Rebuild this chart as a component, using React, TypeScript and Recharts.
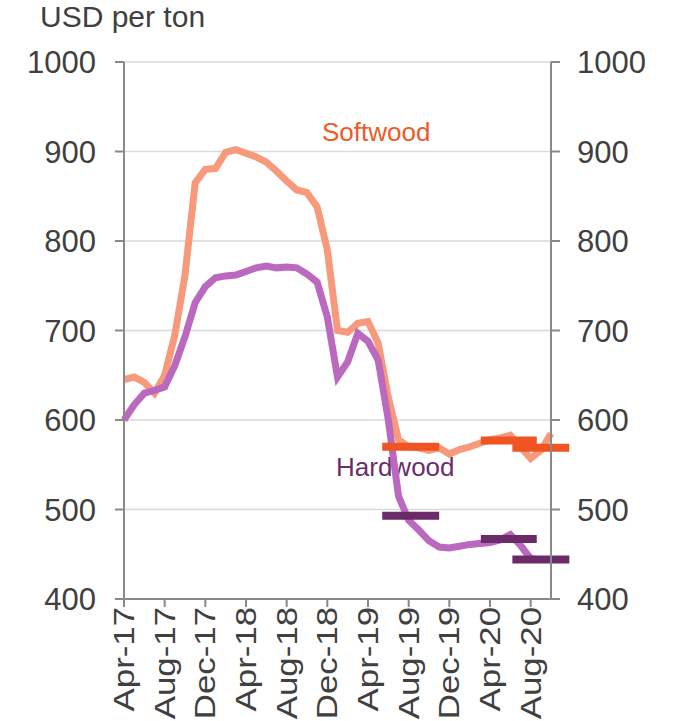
import React from "react";
import {
  ComposedChart,
  Line,
  XAxis,
  YAxis,
  CartesianGrid,
  ReferenceLine,
} from "recharts";

const months = [
  "Apr-17", "May-17", "Jun-17", "Jul-17", "Aug-17", "Sep-17", "Oct-17", "Nov-17", "Dec-17",
  "Jan-18", "Feb-18", "Mar-18", "Apr-18", "May-18", "Jun-18", "Jul-18", "Aug-18", "Sep-18",
  "Oct-18", "Nov-18", "Dec-18", "Jan-19", "Feb-19", "Mar-19", "Apr-19", "May-19", "Jun-19",
  "Jul-19", "Aug-19", "Sep-19", "Oct-19", "Nov-19", "Dec-19", "Jan-20", "Feb-20", "Mar-20",
  "Apr-20", "May-20", "Jun-20", "Jul-20", "Aug-20", "Sep-20", "Oct-20",
];

const softwood = [
  645, 648, 642, 630, 650, 695, 762, 865, 880, 881, 899, 902, 898, 894, 888, 878, 867, 857,
  854, 838, 790, 700, 698, 708, 710, 686, 625, 578, 570, 569, 566, 569, 562, 567, 570, 574,
  578, 580, 583, 570, 557, 566, 585,
];

const hardwood = [
  600, 617, 630, 633, 637, 661, 693, 731, 749, 759, 761, 762, 766, 770, 772, 770, 771, 770,
  763, 754, 715, 648, 665, 697, 688, 667, 600, 515, 488, 477, 465, 458, 457, 459, 461, 462,
  463, 466, 472, 460, 445, 444, 444,
];

// averages drawn as thick horizontal bars (start / end in month index)
const avgStart = [25.4, 35.1, 38.2];
const avgEnd = [31.0, 40.6, 43.8];
const softwoodAvg = [570, 577, 569];
const hardwoodAvg = [493, 467, 444];

const tickLabels = [
  "Apr-17", "Aug-17", "Dec-17", "Apr-18", "Aug-18", "Dec-18", "Apr-19", "Aug-19", "Dec-19",
  "Apr-20", "Aug-20",
];
const yTicks = [400, 500, 600, 700, 800, 900, 1000];

const data = months.map((m, i) => ({
  i,
  month: m,
  softwood: softwood[i],
  hardwood: hardwood[i],
}));

const font = "'Liberation Sans', Arial, sans-serif";
const textColor = "#404040";
const axisColor = "#898989";

const XTick = ({ x, y, payload }: any) => (
  <text
    transform={`translate(${x},${y}) rotate(-90) scale(1.2,1)`}
    textAnchor="end"
    dominantBaseline="central"
    fontSize={29}
    fontFamily={font}
    fill={textColor}
  >
    {months[payload.value]}
  </text>
);

export default function App() {
  const tickIdx = tickLabels.map((t) => months.indexOf(t));
  return (
    <div style={{ position: "absolute", left: 0, top: 0, width: 676, height: 721, background: "#fff", fontFamily: font }}>
      <div style={{ position: "absolute", left: 40, top: 0, fontSize: 30, color: textColor }}>USD per ton</div>
      <div style={{ position: "absolute", left: 322, top: 117, fontSize: 26, color: "#f05a28" }}>Softwood</div>
      <div style={{ position: "absolute", left: 336, top: 452, fontSize: 26, color: "#6b2c6e" }}>Hardwood</div>
      <ComposedChart
        width={676}
        height={721}
        data={data}
        margin={{ top: 62, right: 0, left: 0, bottom: 0 }}
      >
        <CartesianGrid yAxisId="left" vertical={false} stroke="#d9d9d9" strokeWidth={1.5} />
        <XAxis
          dataKey="i"
          type="number"
          domain={[0, 42]}
          ticks={tickIdx}
          interval={0}
          height={122}
          tick={<XTick />}
          tickSize={8}
          tickMargin={0}
          stroke={axisColor}
          strokeWidth={2}
        />
        <YAxis
          yAxisId="left"
          domain={[400, 1000]}
          ticks={yTicks}
          width={124}
          tickSize={9}
          tickMargin={19}
          stroke={axisColor}
          strokeWidth={2}
          tick={{ fontSize: 31, fill: textColor, fontFamily: font }}
        />
        <YAxis
          yAxisId="right"
          orientation="right"
          domain={[400, 1000]}
          ticks={yTicks}
          width={125}
          tickSize={9}
          tickMargin={17}
          stroke={axisColor}
          strokeWidth={2}
          tick={{ fontSize: 31, fill: textColor, fontFamily: font }}
        />
        <Line
          yAxisId="left"
          dataKey="softwood"
          stroke="#f7997b"
          strokeWidth={7}
          dot={false}
          type="linear"
          isAnimationActive={false}
        />
        <Line
          yAxisId="right"
          dataKey="hardwood"
          stroke="#bb68bf"
          strokeWidth={7}
          dot={false}
          type="linear"
          isAnimationActive={false}
        />
        {softwoodAvg.map((v, k) => (
          <ReferenceLine
            key={`s${k}`}
            yAxisId="left"
            segment={[{ x: avgStart[k], y: v }, { x: avgEnd[k], y: v }]}
            stroke="#f05423"
            strokeWidth={8}
            ifOverflow="visible"
          />
        ))}
        {hardwoodAvg.map((v, k) => (
          <ReferenceLine
            key={`h${k}`}
            yAxisId="left"
            segment={[{ x: avgStart[k], y: v }, { x: avgEnd[k], y: v }]}
            stroke="#6a2b68"
            strokeWidth={8}
            ifOverflow="visible"
          />
        ))}
      </ComposedChart>
    </div>
  );
}
